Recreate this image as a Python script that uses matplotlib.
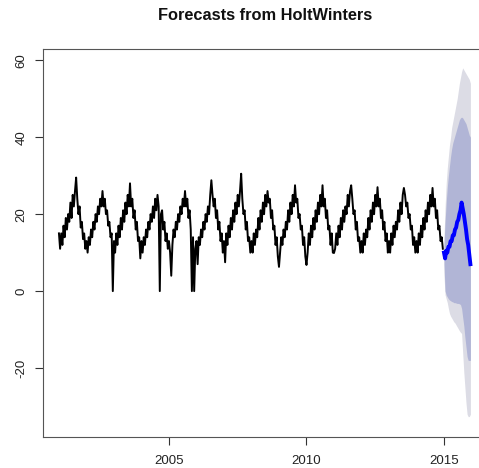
import numpy as np
import matplotlib
matplotlib.use("Agg")
import matplotlib.pyplot as plt

plt.rcParams['font.family'] = ['Liberation Sans', 'DejaVu Sans']

# ===============================
# Data (~24 samples per year)
# ===============================

start_year = 2001
per_year = 24

obs_2001 = [15, 11, 15, 12, 17, 14, 19, 16, 20, 18, 23, 19, 25, 22, 26, 29.5, 24, 20, 22, 16.5, 18, 13.5, 15, 11]
obs_2002 = [13, 10, 14, 12, 16, 14, 18, 16, 20, 18, 22, 20, 24, 22, 26, 22, 24, 20, 21, 17, 18, 14, 15, 0]
obs_2003 = [13, 10, 15, 12, 17, 14, 19, 16, 21, 18, 23, 20, 25, 22, 28, 22, 24, 19, 21, 16, 18, 13, 14, 8.5]
obs_2004 = [13, 10, 14, 12, 16, 14, 18, 16, 20, 18, 22, 19, 24, 21, 25, 22, 0, 20, 21, 16, 18, 13, 15, 11]
obs_2005 = [13, 10, 4, 12, 16, 14, 18, 16, 20, 18, 22, 20, 24, 22, 26, 22, 24, 19, 21, 16, 0, 14, 0, 11]
obs_2006 = [13, 7, 14, 12, 16, 14, 18, 16, 20, 18, 22, 20, 25, 28.8, 25, 22, 24, 19, 21, 16, 18, 13, 15, 10]
obs_2007 = [13, 7.5, 15, 12, 17, 14, 19, 16, 21, 18, 23, 20, 25, 22, 26, 30.5, 24, 20, 21, 16, 18, 13, 14, 10]
obs_2008 = [13, 10, 15, 12, 16, 14, 19, 16, 21, 18, 23, 20, 25, 22, 26, 23, 24, 19, 21, 16, 17, 12, 14, 9]
obs_2009 = [6.3, 10, 14, 12, 16, 14, 18, 16, 21, 18, 23, 20, 25, 22, 27.5, 23, 24, 19, 20, 16, 17, 12, 14, 9]
obs_2010 = [6.8, 10, 15, 12, 17, 14, 19, 16, 21, 18, 23, 20, 25, 22, 27.5, 22, 24, 19, 21, 16, 17, 12, 15, 10]
obs_2011 = [9.9, 11, 15, 12, 17, 14, 19, 16, 21, 18, 22, 20, 25, 22, 26, 27.5, 24, 20, 21, 16, 18, 13, 14, 10]
obs_2012 = [13, 10, 15, 12, 16, 14, 19, 16, 21, 18, 23, 20, 25, 22, 27, 22, 24, 19, 21, 16, 18, 13, 15, 10]
obs_2013 = [13, 10, 15, 12, 17, 14, 18, 16, 21, 18, 23, 20, 25, 26.8, 25, 22, 23, 19, 20, 16, 17, 12, 14, 10]
obs_2014 = [13, 10, 15, 12, 17, 14, 19, 16, 21, 18, 23, 20, 25, 22, 26.8, 22, 24, 19, 21, 16, 17, 13, 14, 11]

# forecast horizon, one value every 0.04 year from 2015.0
fc_start = 2015.0
fc_step = 0.04
fc_mean = [10, 8.5, 10.5, 10, 11.5, 11.5, 13, 13, 14.5, 14.5, 16, 16.5, 18, 18.5, 20, 21, 23,
           21.5, 20, 18, 16, 13.5, 12, 9.5, 7]
hi95 = [14, 22, 28, 32, 35, 38, 40, 42.5, 44, 45.5, 47, 48.5, 50, 52, 54, 55.5, 57,
        58, 57.5, 57, 56.5, 56, 55.5, 55, 54]
hi80 = [12, 18, 23, 27, 30, 32.5, 35, 37, 38.5, 39.5, 40.5, 41.5, 42.5, 43.5, 44.5, 45, 45.2,
        45, 44.5, 44, 43.5, 42.5, 41.5, 40.5, 40]
lo80 = [7, 0, -1, -1.5, -2, -2.3, -2.5, -2.7, -2.8, -3, -3, -3.1, -3.2, -3.2, -3.3, -3.5, -4.5,
        -6.8, -9, -12, -14.5, -17, -18, -18, -18]
lo95 = [4, -1, -2, -3, -4.5, -5.8, -6.5, -7, -7.5, -8, -8.3, -8.8, -9.3, -9.8, -10.3, -10.7, -11,
        -16, -21, -25, -29, -32, -32.6, -32.6, -32]

x_ticks = [2005, 2010, 2015]
y_ticks = [-20, 0, 20, 40, 60]

# ===============================
# Plot
# ===============================

observed = np.concatenate([obs_2001, obs_2002, obs_2003, obs_2004, obs_2005, obs_2006, obs_2007,
                           obs_2008, obs_2009, obs_2010, obs_2011, obs_2012, obs_2013, obs_2014])
t_obs = start_year + np.arange(len(observed)) / per_year
t_fc = fc_start + fc_step * np.arange(len(fc_mean))

fig = plt.figure(figsize=(4.79, 4.68), dpi=100)
# right edge of the plot box falls outside the picture, as in the reference
ax = fig.add_axes([43 / 479, 31 / 468, 445 / 479, 388 / 468])

ax.fill_between(t_fc, lo95, hi95, color='#dcdce5', linewidth=0)
ax.fill_between(t_fc, lo80, hi80, color='#b1b5d6', linewidth=0)
ax.plot(t_obs, observed, color='black', linewidth=1.4)
ax.plot(t_fc, fc_mean, color='#0000ff', linewidth=2.8)

ax.set_xlim(2000.42, 2016.6)
ax.set_ylim(-37.9, 62.9)
ax.set_xticks(x_ticks)
ax.set_yticks(y_ticks)
ax.set_yticklabels([str(v) for v in y_ticks], rotation=90, va='center')
ax.tick_params(direction='out', length=6, width=0.8, colors='#333333',
               labelsize=9.5, labelcolor='#222222')
ax.tick_params(axis='x', pad=7)
ax.tick_params(axis='y', pad=5)
for s in ax.spines.values():
    s.set_color('#555555')
    s.set_linewidth(0.8)

fig.text(265 / 479, 1 - 16 / 468, 'Forecasts from HoltWinters', ha='center', va='center',
         fontsize=11.8, fontweight='bold', color='#111111')

fig.savefig('out.png', dpi=100)
